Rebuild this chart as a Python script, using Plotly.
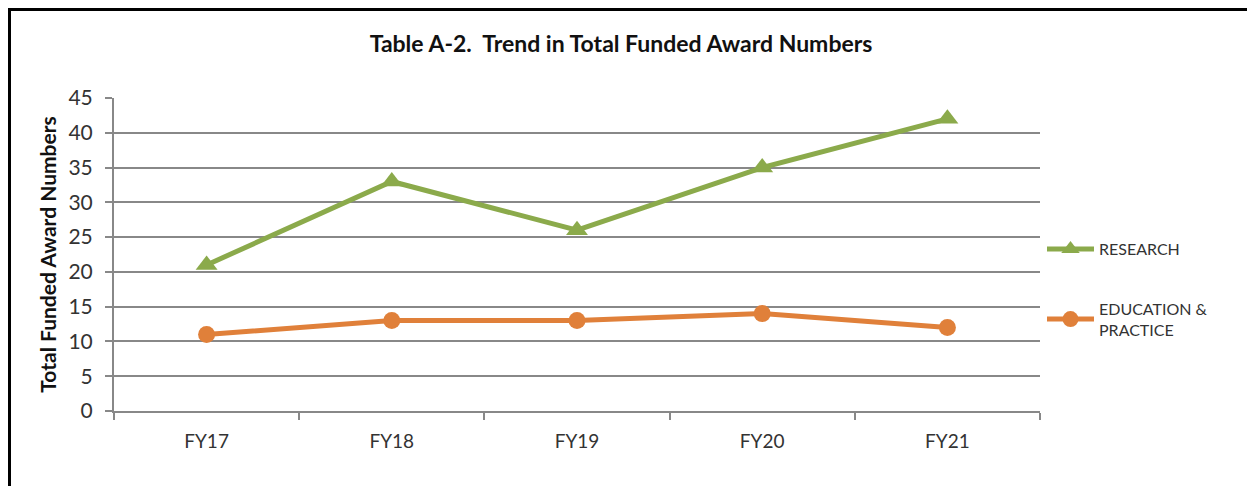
import plotly.graph_objects as go

categories = ["FY17", "FY18", "FY19", "FY20", "FY21"]
research = [21, 33, 26, 35, 42]
education = [11, 13, 13, 14, 12]
y_ticks = [0, 5, 10, 15, 20, 25, 30, 35, 40, 45]

# the page body adds an 8px offset; figure is sized/margined to compensate
OFF = 8
W, H = 1255 - OFF, 486 - OFF
PL, PR, PT, PB = 114, 1040, 98, 411  # target plot area in screen pixels
L, T = PL - OFF, PT - OFF
R, B = W + OFF - PR, H + OFF - PB
pw, ph = PR - PL, PB - PT

GREEN = "#8BAA4B"
ORANGE = "#E0803A"
GRID = "#888888"
FONT = "Lato"
TXT = "#333333"


def px_x(p):
    return (p - PL) / pw


def px_y(p):
    return (PB - p) / ph


fig = go.Figure()
fig.add_trace(go.Scatter(
    x=categories, y=research, name="RESEARCH", mode="lines+markers",
    line=dict(color=GREEN, width=5),
    marker=dict(symbol="triangle-up", size=19, color=GREEN),
    legendgroup="a",
))
fig.add_trace(go.Scatter(
    x=categories, y=education, name="EDUCATION &<br>PRACTICE", mode="lines+markers",
    line=dict(color=ORANGE, width=5),
    marker=dict(symbol="circle", size=17, color=ORANGE),
    legendgroup="b",
))

fig.update_layout(
    width=W, height=H,
    margin=dict(l=L, r=R, t=T, b=B, autoexpand=False),
    paper_bgcolor="white", plot_bgcolor="white",
    font=dict(family=FONT, size=16, color=TXT),
    title=dict(
        text="<b>Table A-2.  Trend in Total Funded Award Numbers</b>",
        x=px_x(621), xanchor="center", xref="paper",
        y=(H + OFF - 44) / H, yanchor="middle",
        font=dict(family=FONT, size=23, color="#111111"),
    ),
    showlegend=True,
    legend=dict(
        x=px_x(1042), y=px_y(232), xanchor="left", yanchor="top",
        font=dict(family=FONT, size=16, color=TXT),
        tracegroupgap=36, traceorder="grouped", itemwidth=47,
        bgcolor="rgba(0,0,0,0)",
    ),
    xaxis=dict(
        type="category", range=[-0.5, 4.5],
        showline=True, linecolor=GRID, linewidth=2,
        ticks="outside", tickson="boundaries", ticklen=7, tickcolor=GRID, tickwidth=2,
        showgrid=False, ticklabelstandoff=12,
        tickfont=dict(family=FONT, size=19, color=TXT),
        fixedrange=True,
    ),
    yaxis=dict(
        range=[0, 45], tickvals=y_ticks,
        showline=True, linecolor=GRID, linewidth=2,
        ticks="outside", ticklen=7, tickcolor=GRID, tickwidth=2,
        showgrid=True, gridcolor=GRID, gridwidth=2,
        zeroline=False, ticklabelstandoff=8,
        tickfont=dict(family=FONT, size=21, color=TXT),
        title=dict(text="<b>Total Funded Award Numbers</b>", standoff=6,
                   font=dict(family=FONT, size=21, color="#111111")),
        fixedrange=True,
    ),
    shapes=[dict(
        type="rect", xref="paper", yref="paper",
        x0=px_x(9.5), x1=px_x(1251.5), y0=px_y(9.5), y1=px_y(500),
        line=dict(color="black", width=3), fillcolor="rgba(0,0,0,0)", layer="above",
    )],
)

fig.write_html("out.html")
